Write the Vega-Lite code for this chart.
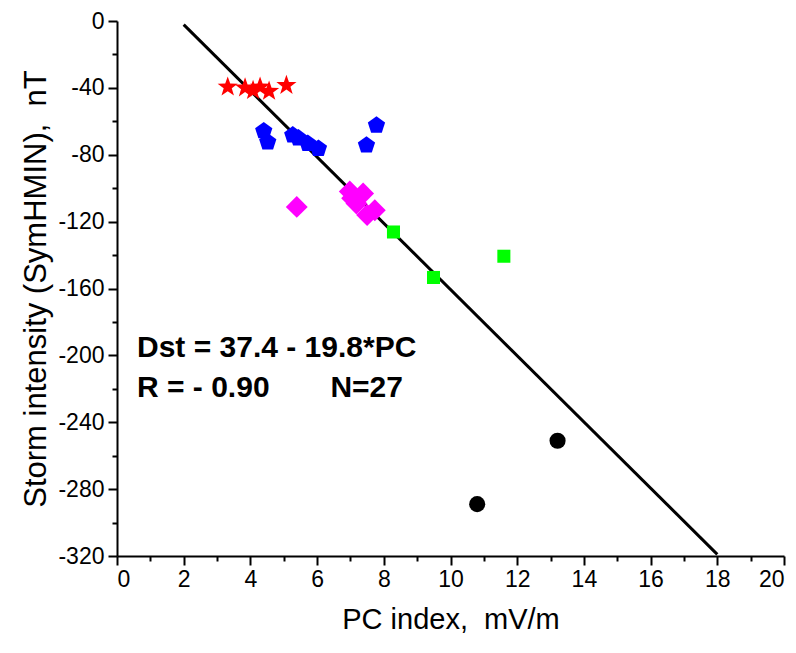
{
  "$schema": "https://vega.github.io/schema/vega-lite/v6.json",
  "width": 667,
  "height": 535,
  "autosize": {"type": "none"},
  "padding": {"left": 117, "top": 21, "right": 12, "bottom": 97},
  "background": "white",
  "config": {
    "view": {"stroke": null},
    "axis": {
      "grid": false,
      "domainColor": "black",
      "domainWidth": 2,
      "tickColor": "black",
      "tickWidth": 2,
      "labelFont": "Liberation Sans",
      "labelFontSize": 23,
      "labelColor": "black",
      "titleFont": "Liberation Sans",
      "titleFontWeight": "normal",
      "titleColor": "black"
    }
  },
  "datasets": {
    "points": [
      {"pc": 3.32, "dst": -39.5, "g": "star"},
      {"pc": 3.84, "dst": -40, "g": "star"},
      {"pc": 4.08, "dst": -41.5, "g": "star"},
      {"pc": 4.29, "dst": -39.5, "g": "star"},
      {"pc": 4.56, "dst": -42, "g": "star"},
      {"pc": 5.08, "dst": -38.5, "g": "star"},
      {"pc": 4.40, "dst": -65.8, "g": "pent"},
      {"pc": 4.52, "dst": -72.4, "g": "pent"},
      {"pc": 5.27, "dst": -68.3, "g": "pent"},
      {"pc": 5.44, "dst": -70.1, "g": "pent"},
      {"pc": 5.72, "dst": -73.3, "g": "pent"},
      {"pc": 6.04, "dst": -76.3, "g": "pent"},
      {"pc": 7.78, "dst": -62.4, "g": "pent"},
      {"pc": 7.48, "dst": -74.3, "g": "pent"},
      {"pc": 5.39, "dst": -111.2, "g": "diam"},
      {"pc": 6.98, "dst": -102, "g": "diam"},
      {"pc": 7.05, "dst": -106, "g": "diam"},
      {"pc": 7.38, "dst": -103.2, "g": "diam"},
      {"pc": 7.18, "dst": -109.2, "g": "diam"},
      {"pc": 7.50, "dst": -116, "g": "diam"},
      {"pc": 7.73, "dst": -113.2, "g": "diam"},
      {"pc": 8.29, "dst": -126.2, "g": "sq"},
      {"pc": 9.49, "dst": -153.4, "g": "sq"},
      {"pc": 11.6, "dst": -140.7, "g": "sq"},
      {"pc": 13.21, "dst": -251.1, "g": "circ"},
      {"pc": 10.8, "dst": -289, "g": "circ"}
    ],
    "fit": [
      {"pc": 2, "dst": -2.2},
      {"pc": 18, "dst": -319}
    ],
    "notes": [
      {"pc": 0.6, "dst": -201, "t": "Dst = 37.4 - 19.8*PC"},
      {"pc": 0.6, "dst": -225, "t": "R = - 0.90"},
      {"pc": 6.4, "dst": -225, "t": "N=27"}
    ]
  },
  "encoding": {
    "x": {
      "field": "pc",
      "type": "quantitative",
      "scale": {"domain": [0, 20], "nice": false, "zero": false},
      "axis": {
        "title": "PC index,\u00a0\u00a0mV/m",
        "titleFontSize": 29,
        "values": [0,1,2,3,4,5,6,7,8,9,10,11,12,13,14,15,16,17,18,19,20],
        "labelExpr": "datum.value % 2 === 0 ? '' + datum.value : ''",
        "tickSize": {"condition": {"test": "datum.value % 2 === 0", "value": 9}, "value": 5},
        "labelPadding": 3,
        "titlePadding": 14
      }
    },
    "y": {
      "field": "dst",
      "type": "quantitative",
      "scale": {"domain": [-320, 0], "nice": false, "zero": false},
      "axis": {
        "title": "Storm intensity (SymHMIN),\u00a0\u00a0nT",
        "titleFontSize": 31,
        "values": [0,-20,-40,-60,-80,-100,-120,-140,-160,-180,-200,-220,-240,-260,-280,-300,-320],
        "labelExpr": "datum.value % 40 === 0 ? '' + datum.value : ''",
        "tickSize": {"condition": {"test": "datum.value % 40 === 0", "value": 9}, "value": 5},
        "labelPadding": 4,
        "titlePadding": 5
      }
    }
  },
  "layer": [
    {
      "data": {"name": "fit"},
      "mark": {"type": "line", "color": "black", "strokeWidth": 3},
      "encoding": {}
    },
    {
      "data": {"name": "points"},
      "mark": {"type": "point", "filled": true, "opacity": 1, "strokeWidth": 0},
      "encoding": {
        "shape": {
          "field": "g",
          "type": "nominal",
          "scale": {
            "domain": ["star", "pent", "diam", "sq", "circ"],
            "range": [
              "M0,-1L0.235,-0.324L0.951,-0.309L0.38,0.124L0.588,0.809L0,0.4L-0.588,0.809L-0.38,0.124L-0.951,-0.309L-0.235,-0.324Z",
              "M0,-1L0.951,-0.309L0.588,0.809L-0.588,0.809L-0.951,-0.309Z",
              "diamond",
              "square",
              "circle"
            ]
          },
          "legend": null
        },
        "color": {
          "field": "g",
          "type": "nominal",
          "scale": {
            "domain": ["star", "pent", "diam", "sq", "circ"],
            "range": ["#ff0000", "#0000ff", "#ff00ff", "#00ff00", "#000000"]
          },
          "legend": null
        },
        "size": {
          "field": "g",
          "type": "nominal",
          "scale": {
            "type": "ordinal",
            "domain": ["star", "pent", "diam", "sq", "circ"],
            "range": [450, 330, 480, 170, 260]
          },
          "legend": null
        }
      }
    },
    {
      "data": {"name": "notes"},
      "mark": {
        "type": "text",
        "align": "left",
        "baseline": "alphabetic",
        "font": "Liberation Sans",
        "fontWeight": "bold",
        "fontSize": 30,
        "color": "black"
      },
      "encoding": {
        "text": {"field": "t"}
      }
    }
  ]
}
